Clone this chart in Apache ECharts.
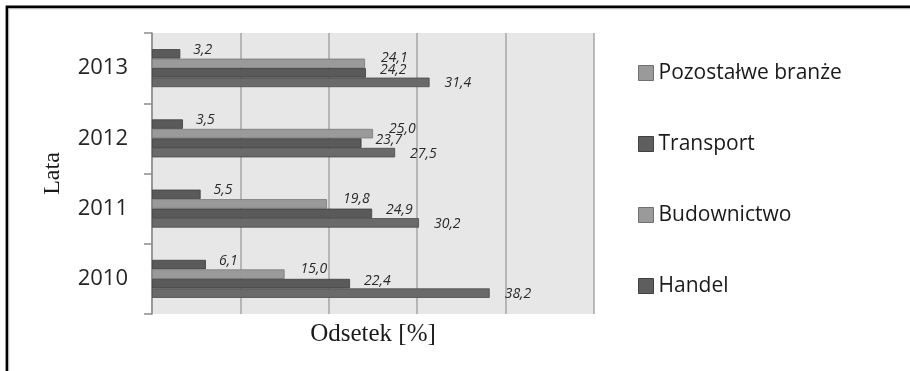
<!DOCTYPE html>
<html>
<head>
<meta charset="utf-8">
<script src="https://cdn.jsdelivr.net/npm/echarts@6/dist/echarts.min.js"></script>
<style>
  html, body { margin: 0; padding: 0; background: #ffffff; }
  #chart { width: 910px; height: 371px; }
</style>
</head>
<body>
<div id="chart"></div>
<script>
// Years on the category axis (bottom to top)
const years = ['2010', '2011', '2012', '2013'];

// Share of each branch per year [%]
const handel      = [38.2, 30.2, 27.5, 31.4];
const budownictwo = [22.4, 24.9, 23.7, 24.2];
const transport   = [15.0, 19.8, 25.0, 24.1];
const pozostale   = [6.1, 5.5, 3.5, 3.2];

// Legend entries, top to bottom
const legendNames = ['Pozostałwe branże', 'Transport', 'Budownictwo', 'Handel'];

const FONT = "'Open Sans', 'DejaVu Sans', sans-serif";
const SERIF = "'Liberation Serif', 'DejaVu Serif', serif";

const fmt = p => p.value.toFixed(1).replace('.', ',');

function barSeries(name, data, color, border, offset) {
  return {
    name: name,
    type: 'bar',
    data: data,
    barWidth: 9.5,
    barGap: '0%',
    itemStyle: { color: color, borderColor: border, borderWidth: 0.8 },
    label: {
      show: true,
      position: 'right',
      distance: 0,
      offset: offset,
      formatter: fmt,
      fontFamily: FONT,
      fontStyle: 'italic',
      fontSize: 14,
      color: '#2a2a2a'
    }
  };
}

const chart = echarts.init(document.getElementById('chart'), null, { renderer: 'canvas' });

chart.setOption({
  animation: false,
  backgroundColor: '#ffffff',
  grid: {
    left: 152, right: 316, top: 33, bottom: 57,
    show: true, backgroundColor: '#e7e7e7', borderWidth: 0
  },
  legend: {
    orient: 'vertical',
    left: 633,
    top: 57,
    itemWidth: 15,
    itemHeight: 15,
    itemGap: 49,
    icon: 'rect',
    selectedMode: false,
    textStyle: { fontFamily: FONT, fontSize: 21, color: '#1a1a1a', lineHeight: 22 },
    data: [
      { name: legendNames[0], itemStyle: { color: '#9a9a9a', borderColor: '#707070', borderWidth: 1 } },
      { name: legendNames[1], itemStyle: { color: '#5e5e5e', borderColor: '#404040', borderWidth: 1 } },
      { name: legendNames[2], itemStyle: { color: '#9a9a9a', borderColor: '#707070', borderWidth: 1 } },
      { name: legendNames[3], itemStyle: { color: '#5e5e5e', borderColor: '#404040', borderWidth: 1 } }
    ]
  },
  xAxis: {
    type: 'value',
    min: 0, max: 50, interval: 10,
    name: 'Odsetek [%]',
    nameLocation: 'middle',
    nameGap: 8,
    nameTextStyle: { fontFamily: SERIF, fontSize: 25, color: '#1a1a1a', verticalAlign: 'top' },
    axisLine: { show: false },
    axisTick: { show: false },
    axisLabel: { show: false },
    splitLine: { show: true, lineStyle: { color: '#a6a6a6', width: 1.5 } }
  },
  yAxis: {
    type: 'category',
    data: years,
    name: 'Lata',
    nameLocation: 'middle',
    nameRotate: 90,
    nameGap: 87,
    nameTextStyle: { fontFamily: SERIF, fontSize: 24, color: '#1a1a1a' },
    axisLine: { show: true, lineStyle: { color: '#8c8c8c', width: 1.5 } },
    axisTick: { show: true, length: 8, lineStyle: { color: '#8c8c8c', width: 1.5 } },
    axisLabel: { fontFamily: FONT, fontSize: 22, color: '#262626', margin: 24 }
  },
  // Bars within a year, listed top to bottom
  series: [
    barSeries('Pozostałwe branże', pozostale, '#5a5a5a', '#3e3e3e', [13, -4]),
    barSeries('Transport', transport, '#9a9a9a', '#7a7a7a', [16, -5]),
    barSeries('Budownictwo', budownictwo, '#5a5a5a', '#3e3e3e', [14, -3]),
    barSeries('Handel', handel, '#6a6a6a', '#4a4a4a', [15, 1])
  ],
  graphic: [
    {
      type: 'rect',
      shape: { x: 6.9, y: 6.9, width: 930, height: 400 },
      style: { fill: 'none', stroke: '#000000', lineWidth: 2.6 },
      silent: true
    },
    {
      type: 'rect',
      shape: { x: 8.7, y: 8.7, width: 930, height: 400 },
      style: { fill: 'none', stroke: '#b0b0b0', lineWidth: 1 },
      silent: true
    }
  ]
});
</script>
</body>
</html>
